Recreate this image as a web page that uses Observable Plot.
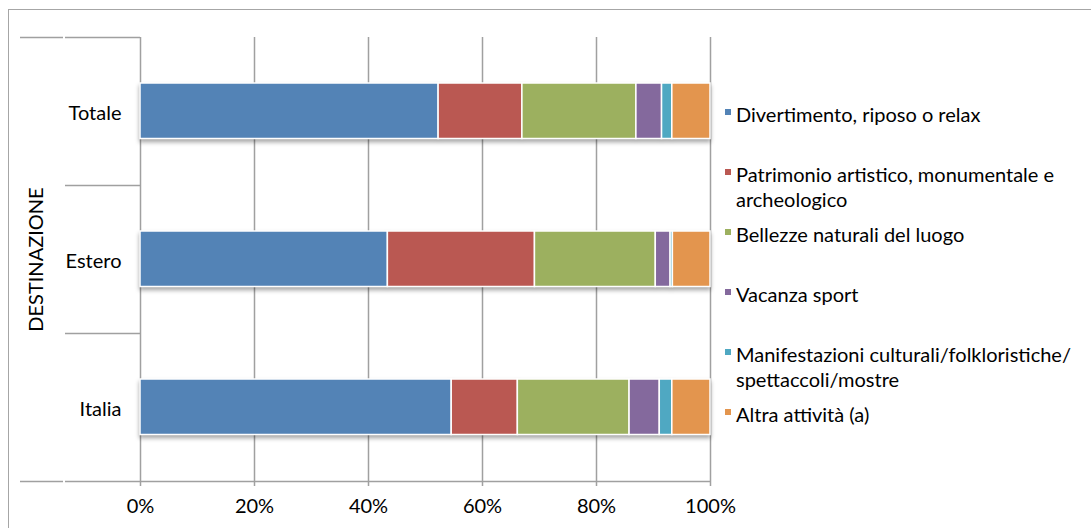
<!DOCTYPE html>
<html>
<head>
<meta charset="utf-8">
<script src="https://cdn.jsdelivr.net/npm/d3@7"></script>
<script src="https://cdn.jsdelivr.net/npm/@observablehq/plot@0.6"></script>
<style>
  html, body { margin: 0; padding: 0; background: #fff; }
  #wrap { position: relative; width: 1091px; height: 528px; overflow: hidden; font-family: Lato, sans-serif; }
  #border { position: absolute; left: 8px; top: 9px; width: 1120px; height: 560px; border: 1.5px solid #a6a6a6; box-sizing: border-box; }
  #chart { position: absolute; left: 0; top: 0; }
  #chart svg g[aria-label="bar"] { filter: drop-shadow(0px 3px 2px rgba(0,0,0,0.35)); }
  #legend { position: absolute; left: 725px; top: 0; font-size: 20px; line-height: 25px; color: #000; }
  .item { position: absolute; left: 0; white-space: pre; }
  .sw { position: absolute; left: 0; top: 7.5px; width: 6px; height: 6px; }
  .lab { position: absolute; left: 11px; top: 0; }
</style>
</head>
<body>
<div id="wrap">
  <div id="border"></div>
  <div id="chart"></div>
  <div id="legend"></div>
</div>
<script>
// ---- Data ----
const destinations = ["Totale", "Estero", "Italia"];
const categories = [
  "Divertimento, riposo o relax",
  "Patrimonio artistico, monumentale e\narcheologico",
  "Bellezze naturali del luogo",
  "Vacanza sport",
  "Manifestazioni culturali/folkloristiche/\nspettaccoli/mostre",
  "Altra attività (a)"
];
const colors = ["#5383B6", "#BA5852", "#9CB05F", "#84699D", "#4FA8C2", "#E3954E"];
// values per destination, order: Totale, Estero, Italia (percent)
const divertimento   = [52.3, 43.4, 54.6];
const patrimonio     = [14.7, 25.8, 11.6];
const bellezze       = [20.0, 21.2, 19.6];
const vacanzaSport   = [4.5, 2.6, 5.3];
const manifestazioni = [1.8, 0.4, 2.2];
const altra          = [6.7, 6.6, 6.7];
const xTicks = [0, 20, 40, 60, 80, 100];
const xTickLabels = ["0%", "20%", "40%", "60%", "80%", "100%"];
const yTitle = "DESTINAZIONE";

const seriesValues = [divertimento, patrimonio, bellezze, vacanzaSport, manifestazioni, altra];
const rows = categories.flatMap((c, i) => destinations.map((d, j) => ({dest: d, cat: c, value: seriesValues[i][j]})));

// ---- Layout ----
const W = 1091, H = 528;
const mL = 140, mR = 381, mT = 37, mB = 47;
const step = (H - mT - mB) / destinations.length;
const gridColor = "#a0a0a0";
const FS = 20;

const chart = Plot.plot({
  width: W, height: H,
  marginLeft: mL, marginRight: mR, marginTop: mT, marginBottom: mB,
  style: {fontFamily: "Lato, sans-serif", fontSize: FS + "px", color: "#000", background: "transparent", overflow: "visible"},
  x: {domain: [0, 100], axis: null},
  y: {domain: destinations, padding: 0, axis: null},
  color: {domain: categories, range: colors},
  marks: [
    // vertical gridlines (extend below axis as ticks)
    Plot.ruleX(xTicks, {x: d => d, stroke: gridColor, strokeWidth: 1.5, insetBottom: -5}),
    // category separators
    Plot.ruleY(destinations.slice(1), {y: d => d, dy: -step / 2, x1: 0, x2: 0, insetLeft: -75, stroke: gridColor, strokeWidth: 1.5}),
    // top outer line (two segments)
    Plot.ruleY(destinations.slice(0, 1), {y: d => d, dy: -step / 2, x1: 0, x2: 0, insetLeft: -75, stroke: gridColor, strokeWidth: 1.5}),
    Plot.ruleY(destinations.slice(0, 1), {y: d => d, dy: -step / 2, x1: 0, x2: 0, insetLeft: -120, insetRight: 77, stroke: gridColor, strokeWidth: 1.5}),
    // bottom axis line (two left segments + axis)
    Plot.ruleY(destinations.slice(-1), {y: d => d, dy: step / 2, x1: 0, x2: 100, insetLeft: -75, stroke: gridColor, strokeWidth: 1.5}),
    Plot.ruleY(destinations.slice(-1), {y: d => d, dy: step / 2, x1: 0, x2: 0, insetLeft: -120, insetRight: 77, stroke: gridColor, strokeWidth: 1.5}),
    // bars
    Plot.barX(rows, Plot.stackX({
      x: "value", y: "dest", fill: "cat", order: categories,
      stroke: "#fff", strokeWidth: 1.5, insetTop: 46, insetBottom: 46.5
    })),
    // y tick labels
    Plot.text(destinations, {y: d => d, text: d => d, frameAnchor: "left", textAnchor: "end", lineAnchor: "middle", dx: -19, dy: 2.5, fontSize: FS, fill: "#000"}),
    // x tick labels
    Plot.text(xTicks, {x: d => d, text: d => xTickLabels[xTicks.indexOf(d)], frameAnchor: "bottom", textAnchor: "middle", lineAnchor: "middle", dy: 25, fontSize: FS, fill: "#000"}),
    // y axis title
    Plot.text([yTitle], {text: d => d, frameAnchor: "left", textAnchor: "middle", lineAnchor: "middle", dx: -104, rotate: -90, fontSize: FS, fill: "#000"})
  ]
});
document.getElementById("chart").appendChild(chart);

// ---- Legend ----
const legend = d3.select("#legend");
const items = legend.selectAll(".item").data(categories).enter().append("div")
  .attr("class", "item")
  .style("top", (d, i) => (101.5 + 60 * i) + "px");
items.append("div").attr("class", "sw").style("background", (d, i) => colors[i]);
items.append("div").attr("class", "lab").text(d => d);
</script>
</body>
</html>
